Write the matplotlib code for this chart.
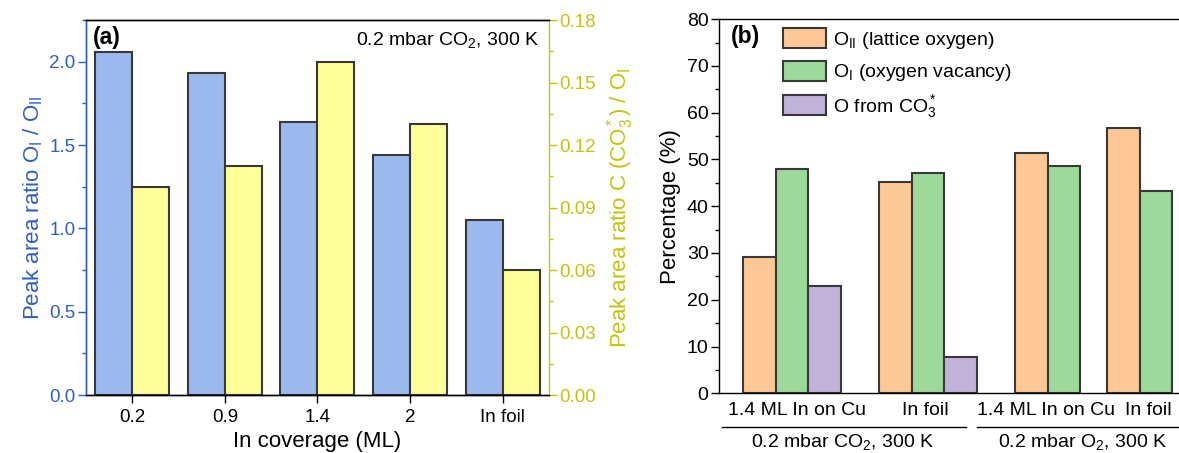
import numpy as np
import matplotlib
matplotlib.use('Agg')
import matplotlib.pyplot as plt
from matplotlib.ticker import MultipleLocator, FormatStrFormatter

plt.rcParams['font.family'] = ['Liberation Sans', 'DejaVu Sans']
plt.rcParams['mathtext.fontset'] = 'custom'
plt.rcParams['mathtext.rm'] = 'Liberation Sans'
plt.rcParams['mathtext.it'] = 'Liberation Sans:italic'
plt.rcParams['mathtext.bf'] = 'Liberation Sans:bold'

# ---- panel (a) data ----
coverage = ['0.2', '0.9', '1.4', '2', 'In foil']
ratio_oi_oii = [2.06, 1.93, 1.64, 1.44, 1.05]
ratio_c_oi = [0.100, 0.110, 0.160, 0.130, 0.060]

# ---- panel (b) data ----
sample_labels = ['1.4 ML In on Cu', 'In foil', '1.4 ML In on Cu', 'In foil']
condition_labels = ['0.2 mbar CO$_2$, 300 K', '0.2 mbar O$_2$, 300 K']
pct_lattice = [29.2, 45.1, 51.3, 56.7]
pct_vacancy = [47.9, 47.1, 48.7, 43.3]
pct_carbonate = [23.0, 7.7]   # only for the CO2 samples

blue = '#2f5fbf'
olive = '#c3c30f'
edge = '#383838'

fig = plt.figure(figsize=(11.79, 4.53), dpi=100)

# ================= (a) =================
ax = fig.add_axes([0.0729, 0.128, 0.3927, 0.8278])
ax2 = ax.twinx()
x = np.arange(len(coverage))
w = 0.4
ax.bar(x - w / 2, ratio_oi_oii, w, color='#9cb9ef', edgecolor=edge, linewidth=1.5)
ax2.bar(x + w / 2, ratio_c_oi, w, color='#ffff99', edgecolor=edge, linewidth=1.5)

ax.set_xlim(-0.5, 4.5)
ax.set_ylim(0, 2.25)
ax2.set_ylim(0, 0.18)
ax.set_xticks(x)
ax.set_xticklabels(coverage)
ax.yaxis.set_major_locator(MultipleLocator(0.5))
ax.yaxis.set_minor_locator(MultipleLocator(0.25))
ax2.yaxis.set_major_locator(MultipleLocator(0.03))
ax2.yaxis.set_minor_locator(MultipleLocator(0.015))
ax2.yaxis.set_major_formatter(FormatStrFormatter('%.2f'))

ax.tick_params(axis='x', length=6, width=1, pad=4, labelsize=13.5)
ax.tick_params(axis='y', which='major', length=5.5, width=1, pad=2,
               labelsize=13.5, colors=blue)
ax.tick_params(axis='y', which='minor', length=3, width=1, colors=blue)
ax2.tick_params(axis='y', which='major', length=5.5, width=1, pad=2,
                labelsize=13.5, colors=olive)
ax2.tick_params(axis='y', which='minor', length=3, width=1, colors=olive)

for a in (ax, ax2):
    for s in a.spines.values():
        s.set_linewidth(1.0)
ax.spines['left'].set_color(blue)
ax2.spines['left'].set_color(blue)
ax2.spines['right'].set_color(olive)
ax.spines['right'].set_visible(False)

ax.set_xlabel('In coverage (ML)', fontsize=16, labelpad=4)
ax.set_ylabel('Peak area ratio O$_{\\rm I}$ / O$_{\\rm II}$', fontsize=16,
              color=blue, labelpad=3)
ax2.set_ylabel('Peak area ratio C (CO$_3^*$) / O$_{\\rm I}$', fontsize=16,
               color=olive, labelpad=6)

ax.text(0.014, 0.985, '(a)', transform=ax.transAxes, fontsize=16.5,
        fontweight='bold', ha='left', va='top')
ax.text(0.98, 0.947, '0.2 mbar CO$_2$, 300 K', transform=ax.transAxes,
        fontsize=14, ha='right', va='center')

# ================= (b) =================
bx = fig.add_axes([0.6098, 0.1318, 0.408, 0.826])
bw = 1.0
group_centers = [2.25, 6.43, 10.12, 12.95]
label_pos = [2.41, 6.34, 10.06, 13.2]
c_lat, c_vac, c_co3 = '#fdc896', '#9dd99b', '#c2b1d9'

lat_x = [group_centers[0] - bw, group_centers[1] - bw,
         group_centers[2] - bw / 2, group_centers[3] - bw / 2]
vac_x = [group_centers[0], group_centers[1],
         group_centers[2] + bw / 2, group_centers[3] + bw / 2]
co3_x = [group_centers[0] + bw, group_centers[1] + bw]

bx.bar(lat_x, pct_lattice, bw, color=c_lat, edgecolor=edge, linewidth=1.5,
       label='O$_{\\rm II}$ (lattice oxygen)')
bx.bar(vac_x, pct_vacancy, bw, color=c_vac, edgecolor=edge, linewidth=1.5,
       label='O$_{\\rm I}$ (oxygen vacancy)')
bx.bar(co3_x, pct_carbonate, bw, color=c_co3, edgecolor=edge, linewidth=1.5,
       label='O from CO$_3^*$')

bx.set_xlim(0, 14.8)
bx.set_ylim(0, 80)
bx.yaxis.set_major_locator(MultipleLocator(10))
bx.yaxis.set_minor_locator(MultipleLocator(5))
bx.set_xticks(label_pos)
bx.set_xticklabels(sample_labels)
bx.tick_params(axis='x', length=0, pad=6, labelsize=14)
bx.tick_params(axis='y', which='major', length=5.5, width=1, pad=2, labelsize=14)
bx.tick_params(axis='y', which='minor', length=3, width=1)
for s in bx.spines.values():
    s.set_linewidth(1.0)
bx.spines['right'].set_visible(False)
bx.set_ylabel('Percentage (%)', fontsize=16, labelpad=4)

bx.text(0.025, 0.985, '(b)', transform=bx.transAxes, fontsize=16.5,
        fontweight='bold', ha='left', va='top')

leg = bx.legend(loc='upper left', bbox_to_anchor=(0.133, 0.975), frameon=False,
                fontsize=14, borderpad=0, borderaxespad=0, handlelength=2.2,
                handleheight=1.2, handletextpad=0.4, labelspacing=0.5)

# condition brackets under the sample labels
tr = bx.get_xaxis_transform()
spans = [(0.1, 7.6), (7.94, 16.0)]
text_x = [3.8, 11.2]
for (x0, x1), tx, lab in zip(spans, text_x, condition_labels):
    bx.plot([x0, x1], [-0.089, -0.089], color='black', lw=1.0,
            transform=tr, clip_on=False)
    bx.text(tx, -0.13, lab, transform=tr, fontsize=14, ha='center', va='center')

fig.savefig('out.png', dpi=100)
